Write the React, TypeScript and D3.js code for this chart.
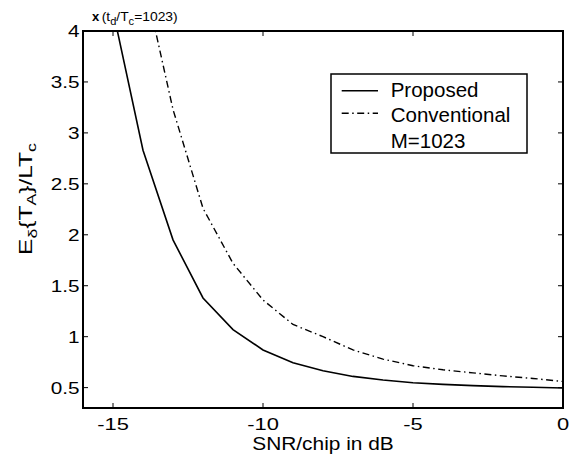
import React from "react";
import * as d3 from "d3";

const snr = [-15, -14, -13, -12, -11, -10, -9, -8, -7, -6, -5, -4, -3, -2, -1, 0];
const proposed = [4.2, 2.83, 1.95, 1.38, 1.07, 0.87, 0.745, 0.665, 0.61, 0.575, 0.548, 0.532, 0.52, 0.51, 0.503, 0.497];
const snrConv = [-14, -13, -12, -11, -10, -9, -8, -7, -6, -5, -4, -3, -2, -1, 0];
const conventional = [4.55, 3.23, 2.26, 1.72, 1.36, 1.12, 1.0, 0.87, 0.78, 0.715, 0.675, 0.645, 0.615, 0.59, 0.56];
const xTicks = [-15, -10, -5, 0];
const yTicks = [0.5, 1, 1.5, 2, 2.5, 3, 3.5, 4];
const yTickLabels = ["0.5", "1", "1.5", "2", "2.5", "3", "3.5", "4"];
const legendLabels = ["Proposed", "Conventional", "M=1023"];

const W = 569;
const H = 457;
const L = 83, R = 563, T = 31, B = 408;
const FONT = "'Liberation Sans', Arial, Helvetica, sans-serif";

export default function App() {
  const x = d3.scaleLinear().domain([-16, 0]).range([L, R]);
  const y = d3.scaleLinear().domain([0.3, 4]).range([B, T]);
  const line = d3.line<[number, number]>().x(d => x(d[0])).y(d => y(d[1]));
  const pPath = line(snr.map((s, i) => [s, proposed[i]] as [number, number])) || "";
  const cPath = line(snrConv.map((s, i) => [s, conventional[i]] as [number, number])) || "";
  const tl = 5;
  const dash = "7,3.5,1.5,3.5";

  return (
    <svg width={W} height={H} style={{ position: "absolute", left: 0, top: 0, background: "#fff" }} fontFamily={FONT}>
      <defs>
        <clipPath id="plotclip">
          <rect x={L} y={T} width={R - L} height={B - T} />
        </clipPath>
      </defs>
      <rect x={0} y={0} width={W} height={H} fill="#fff" />
      <g clipPath="url(#plotclip)" fill="none" stroke="#000">
        <path d={pPath} strokeWidth={1.6} />
        <path d={cPath} strokeWidth={1.4} strokeDasharray={dash} />
      </g>
      {/* ticks */}
      <g stroke="#000" strokeWidth={1}>
        {xTicks.map(t => (
          <g key={"xt" + t}>
            <line x1={x(t)} x2={x(t)} y1={B} y2={B - tl} />
            <line x1={x(t)} x2={x(t)} y1={T} y2={T + tl} />
          </g>
        ))}
        {yTicks.map(t => (
          <g key={"yt" + t}>
            <line x1={L} x2={L + tl} y1={y(t)} y2={y(t)} />
            <line x1={R} x2={R - tl} y1={y(t)} y2={y(t)} />
          </g>
        ))}
      </g>
      <rect x={L} y={T} width={R - L} height={B - T} fill="none" stroke="#000" strokeWidth={2} />
      {/* tick labels */}
      <g fontSize={16.5} fill="#000">
        {xTicks.map(t => (
          <g key={"xl" + t} transform={`translate(${x(t)},${429.5}) scale(1.33,1)`}>
            <text textAnchor="middle">{t < 0 ? "-" + Math.abs(t) : String(t)}</text>
          </g>
        ))}
      </g>
      <g fontSize={17} fill="#000">
        {yTicks.map((t, i) => (
          <g key={"yl" + t} transform={`translate(${79.5},${y(t) + 6}) scale(1.22,1)`}>
            <text textAnchor="end">{yTickLabels[i]}</text>
          </g>
        ))}
      </g>
      {/* x label */}
      <g transform={`translate(${(L + R) / 2},449.5) scale(1.16,1)`}>
        <text textAnchor="middle" fontSize={18}>SNR/chip in dB</text>
      </g>
      {/* y label */}
      <g transform={`translate(32,199) rotate(-90)`}>
        <text textAnchor="middle" fontSize={18} textLength={112} lengthAdjust="spacingAndGlyphs">
          E<tspan fontSize={13} dy={5}>δ</tspan>
          <tspan dy={-5}>{"{T"}</tspan>
          <tspan fontSize={13} dy={4}>A</tspan>
          <tspan dy={-4}>{"}/LT"}</tspan>
          <tspan fontSize={13} dy={4}>c</tspan>
        </text>
      </g>
      {/* annotation */}
      <text x={92} y={21} fontSize={13} fontWeight="bold">x</text>
      <text x={101.7} y={21} fontSize={12.5} textLength={76} lengthAdjust="spacingAndGlyphs">
        (t<tspan fontSize={10} dy={4}>d</tspan>
        <tspan dy={-4}>/T</tspan>
        <tspan fontSize={10} dy={4}>c</tspan>
        <tspan dy={-4}>=1023)</tspan>
      </text>
      {/* legend */}
      <rect x={331} y={74} width={196} height={79} fill="#fff" stroke="#000" strokeWidth={1.5} />
      <line x1={341.7} x2={378} y1={90.7} y2={90.7} stroke="#000" strokeWidth={1.6} />
      <line x1={341.7} x2={378} y1={113.3} y2={113.3} stroke="#000" strokeWidth={1.4} strokeDasharray={dash} />
      <g fontSize={20.5} fill="#000">
        <text x={390.7} y={97}>{legendLabels[0]}</text>
        <text x={390.7} y={122}>{legendLabels[1]}</text>
        <text x={390.7} y={147.5}>{legendLabels[2]}</text>
      </g>
    </svg>
  );
}
